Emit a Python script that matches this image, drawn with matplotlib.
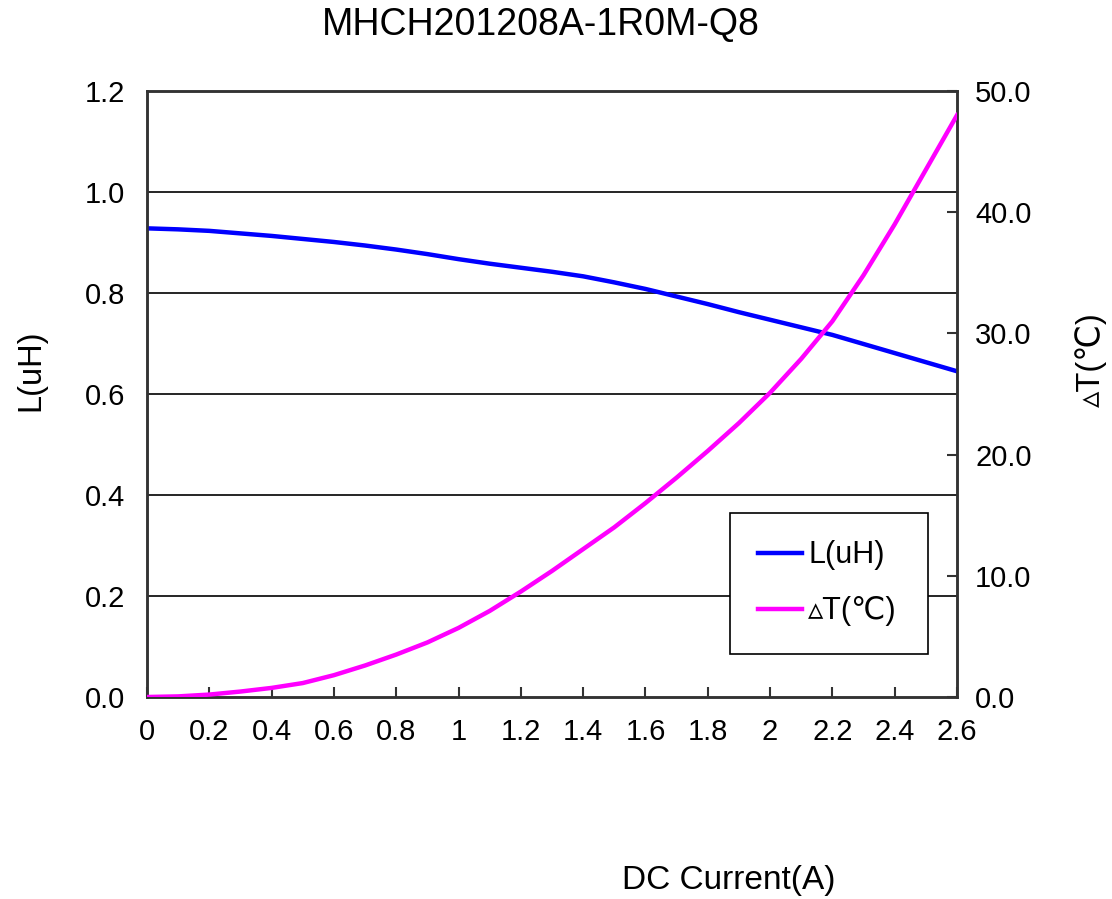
import matplotlib
matplotlib.use("Agg")
import matplotlib.pyplot as plt
from matplotlib.lines import Line2D

plt.rcParams['font.family'] = ['Liberation Sans', 'DejaVu Sans']

title = "MHCH201208A-1R0M-Q8"
x_label = "DC Current(A)"
y_label = "L(uH)"
y2_label = "\u25b5T(\u2103)"
legend_labels = ["L(uH)", "\u25b5T(\u2103)"]

current = [0.0, 0.1, 0.2, 0.3, 0.4, 0.5, 0.6, 0.7, 0.8, 0.9, 1.0, 1.1, 1.2, 1.3,
           1.4, 1.5, 1.6, 1.7, 1.8, 1.9, 2.0, 2.1, 2.2, 2.3, 2.4, 2.5, 2.6]
inductance = [0.928, 0.926, 0.923, 0.918, 0.913, 0.907, 0.901, 0.894, 0.886, 0.877,
              0.867, 0.858, 0.850, 0.842, 0.833, 0.821, 0.808, 0.793, 0.778, 0.762,
              0.747, 0.732, 0.717, 0.699, 0.681, 0.663, 0.645]
delta_T = [0.0, 0.05, 0.2, 0.45, 0.75, 1.15, 1.8, 2.6, 3.5, 4.5, 5.7, 7.1, 8.7, 10.4,
           12.2, 14.0, 16.0, 18.1, 20.3, 22.6, 25.1, 27.9, 31.0, 34.8, 39.0, 43.5, 48.0]

x_ticks = [0, 0.2, 0.4, 0.6, 0.8, 1, 1.2, 1.4, 1.6, 1.8, 2, 2.2, 2.4, 2.6]
x_tick_labels = ["0", "0.2", "0.4", "0.6", "0.8", "1", "1.2", "1.4", "1.6", "1.8",
                 "2", "2.2", "2.4", "2.6"]
y_ticks = [0.0, 0.2, 0.4, 0.6, 0.8, 1.0, 1.2]
y2_ticks = [0, 10, 20, 30, 40, 50]

fig = plt.figure(figsize=(11.12, 8.99), dpi=100)
ax = fig.add_axes([0.1322, 0.2247, 0.7284, 0.6741])
ax2 = ax.twinx()

ax.set_xlim(0, 2.6)
ax.set_ylim(0, 1.2)
ax2.set_ylim(0, 50)

for y in y_ticks[1:-1]:
    ax.axhline(y, color='black', lw=1.2, zorder=1)

ax.plot(current, inductance, color='#0000ff', lw=3.2, zorder=3)
ax2.plot(current, delta_T, color='#ff00ff', lw=3.2, zorder=3)

ax.set_xticks(x_ticks)
ax.set_xticklabels(x_tick_labels)
ax.set_yticks(y_ticks)
ax.set_yticklabels([f"{v:.1f}" for v in y_ticks])
ax2.set_yticks(y2_ticks)
ax2.set_yticklabels([f"{v:.1f}" for v in y2_ticks])

ax.tick_params(axis='x', direction='in', length=7, width=1.5, labelsize=21, pad=15, color='#333333')
ax.tick_params(axis='y', direction='in', length=0, labelsize=21, pad=16)
ax2.tick_params(axis='y', direction='in', length=7, width=1.5, labelsize=21, pad=13, color='#333333')

for a in (ax, ax2):
    for s in a.spines.values():
        s.set_color('#333333')
        s.set_linewidth(1.8)

fig.text(0.486, 0.972, title, ha='center', va='center', fontsize=27)
fig.text(0.655, 0.021, x_label, ha='center', va='center', fontsize=24)
fig.text(0.028, 0.588, y_label, ha='center', va='center', fontsize=23.5, rotation=90)
fig.text(0.981, 0.600, y2_label, ha='center', va='center', fontsize=23.5, rotation=90)

handles = [Line2D([], [], color='#0000ff', lw=3.2),
           Line2D([], [], color='#ff00ff', lw=3.2)]
leg = ax2.legend(handles, legend_labels, loc='lower left',
                 bbox_to_anchor=(0.72, 0.071, 0.244, 0.234), mode='expand',
                 fontsize=22, frameon=True, fancybox=False, edgecolor='black',
                 handlelength=1.45, handletextpad=0.2, labelspacing=0.85,
                 borderpad=0.9, borderaxespad=0)
leg.get_frame().set_linewidth(1.2)
leg.get_frame().set_alpha(1)

fig.savefig("out.png", dpi=100, facecolor='white')
